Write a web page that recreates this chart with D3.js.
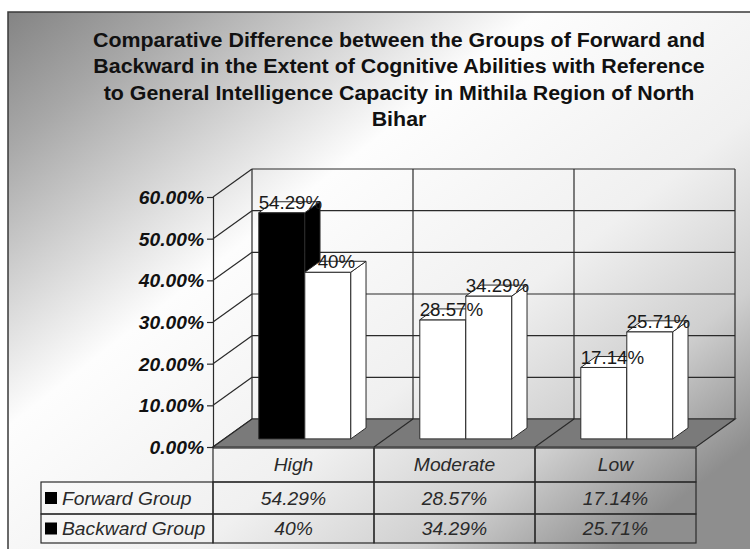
<!DOCTYPE html>
<html>
<head>
<meta charset="utf-8">
<script src="https://cdn.jsdelivr.net/npm/d3@7"></script>
<style>
  html, body { margin: 0; padding: 0; background: #fff; }
  svg text { font-family: "Liberation Sans", Arial, sans-serif; }
</style>
</head>
<body>
<svg id="chart" width="750" height="549"></svg>
<script>
"use strict";

var width  = 750,
    height = 549;

// data
var titleLines = [
    "Comparative Difference between the Groups of Forward and",
    "Backward in the Extent of Cognitive Abilities with Reference",
    "to General Intelligence Capacity in Mithila Region of North",
    "Bihar"
];
var categories = ["High", "Moderate", "Low"];
var seriesNames = ["Forward Group", "Backward Group"];
var forwardValues  = [0.5429, 0.2857, 0.1714];
var backwardValues = [0.40, 0.3429, 0.2571];
var yTicks = [0, 0.1, 0.2, 0.3, 0.4, 0.5, 0.6];

var series = [
    {name: seriesNames[0], values: forwardValues},
    {name: seriesNames[1], values: backwardValues}
];

var fmt = d3.format(".2~%");
var sx = 1.07;   // the picture is a bit wide, text included

// 3d depth: full depth shift
var depthX = 39, depthY = -28;
function px(x, z) { return x + z * depthX; }
function py(y, z) { return y + z * depthY; }

// widen text around its anchor
function stretch(sel) {
    sel.each(function() {
        var t = d3.select(this);
        var x = +t.attr("x") || 0, y = +t.attr("y") || 0;
        t.attr("x", 0).attr("y", 0)
         .attr("transform", "translate(" + x + "," + y + ") scale(" + sx + ",1)");
    });
}

var svg = d3.select("#chart")
            .attr("viewBox", "0 0 " + width + " " + height);

// background
var defs = svg.append("defs");
var grad = defs.append("linearGradient")
               .attr("id", "bg")
               .attr("gradientUnits", "userSpaceOnUse")
               .attr("x1", 0).attr("y1", 0)
               .attr("x2", 500).attr("y2", 640);
[[0, "#7f7f7f"], [0.15, "#a8a8a8"], [0.42, "#fdfdfd"], [0.68, "#f0f0f0"],
 [0.85, "#cfcfcf"], [1, "#8e8e8e"]].forEach(function(s) {
    grad.append("stop").attr("offset", s[0]).attr("stop-color", s[1]);
});

svg.append("rect")
   .attr("x", 8).attr("y", 12)
   .attr("width", 760).attr("height", 560)
   .attr("fill", "url(#bg)")
   .attr("stroke", "#3a3a3a")
   .attr("stroke-width", 1.5);

// title
svg.append("g")
   .selectAll("text")
   .data(titleLines)
   .enter().append("text")
      .attr("x", 399)
      .attr("y", function(d, i) { return 47 + i * 26.3; })
      .attr("text-anchor", "middle")
      .attr("font-size", "20px")
      .attr("font-weight", "bold")
      .attr("fill", "#111")
      .text(function(d) { return d; })
      .call(stretch);

// scales (front plane)
var y = d3.scaleLinear()
          .domain([0, 0.6])
          .range([447, 197]);

var x0 = d3.scaleBand()
           .domain(categories)
           .range([213, 696]);

var x1 = d3.scaleBand()
           .domain(seriesNames)
           .range([0, x0.bandwidth()])
           .paddingInner(0)
           .paddingOuter(0.75);

var plot = svg.append("g").attr("class", "plot");
var line = "#2a2a2a";

// back wall grid
plot.append("g")
    .selectAll("line")
    .data(yTicks)
    .enter().append("line")
        .attr("x1", px(213, 1)).attr("x2", px(696, 1))
        .attr("y1", function(d) { return py(y(d), 1); })
        .attr("y2", function(d) { return py(y(d), 1); })
        .attr("stroke", line).attr("stroke-width", 1.2);

var walls = [213].concat(categories.map(function(c) { return x0(c) + x0.bandwidth(); }));
plot.append("g")
    .selectAll("line")
    .data(walls)
    .enter().append("line")
        .attr("x1", function(d) { return px(d, 1); })
        .attr("x2", function(d) { return px(d, 1); })
        .attr("y1", py(y(0), 1)).attr("y2", py(y(0.6), 1))
        .attr("stroke", line).attr("stroke-width", 1.2);

// side wall diagonals
plot.append("g")
    .selectAll("line")
    .data(yTicks)
    .enter().append("line")
        .attr("x1", 213).attr("y1", function(d) { return y(d); })
        .attr("x2", px(213, 1)).attr("y2", function(d) { return py(y(d), 1); })
        .attr("stroke", line).attr("stroke-width", 1.2);

// floor
var floorPts = [[213, y(0)], [696, y(0)], [px(696, 1), py(y(0), 1)], [px(213, 1), py(y(0), 1)]];
plot.append("polygon")
    .attr("points", floorPts.map(function(p) { return p.join(","); }).join(" "))
    .attr("fill", "#7a7a7a")
    .attr("stroke", line).attr("stroke-width", 1.2);

plot.append("g")
    .selectAll("line")
    .data(categories.slice(1))
    .enter().append("line")
        .attr("x1", function(d) { return x0(d); }).attr("y1", y(0))
        .attr("x2", function(d) { return px(x0(d), 1); }).attr("y2", py(y(0), 1))
        .attr("stroke", line).attr("stroke-width", 1.2);

// y axis
var yAxis = d3.axisLeft(y)
              .tickValues(yTicks)
              .tickFormat(d3.format(".2%"))
              .tickSizeOuter(0)
              .tickSize(6);

var axisG = svg.append("g")
               .attr("transform", "translate(213, 0)")
               .call(yAxis);
axisG.select(".domain").attr("stroke", line).attr("stroke-width", 1.2);
axisG.selectAll(".tick line").attr("stroke", line).attr("stroke-width", 1.2);
axisG.selectAll(".tick text")
     .attr("x", -9)
     .attr("dy", null)
     .attr("y", 6.5)
     .attr("font-family", "Liberation Sans, Arial, sans-serif")
     .attr("font-size", "18px")
     .attr("font-weight", "bold")
     .attr("font-style", "italic")
     .attr("fill", "#111")
     .call(stretch);

// bars; only the High bar of the forward group is filled black
var highlight = {series: seriesNames[0], cat: categories[0]};
var z0 = 0.29, z1 = 0.68;
var bars = [];
categories.forEach(function(c, i) {
    series.forEach(function(s) {
        bars.push({cat: c, name: s.name, value: s.values[i],
                   fill: (s.name === highlight.series && c === highlight.cat) ? "#000" : "#fff"});
    });
});

function pts(arr) { return arr.map(function(p) { return p.join(","); }).join(" "); }

var barG = plot.selectAll("g.bar")
    .data(bars)
    .enter().append("g")
        .attr("class", "bar");

barG.each(function(d) {
    var g = d3.select(this);
    var xl = x0(d.cat) + x1(d.name),
        xr = xl + x1.bandwidth(),
        yt = y(d.value),
        yb = y(0);
    var front = [[px(xl, z0), py(yt, z0)], [px(xr, z0), py(yt, z0)], [px(xr, z0), py(yb, z0)], [px(xl, z0), py(yb, z0)]];
    var side  = [[px(xr, z0), py(yt, z0)], [px(xr, z1), py(yt, z1)], [px(xr, z1), py(yb, z1)], [px(xr, z0), py(yb, z0)]];
    var top   = [[px(xl, z0), py(yt, z0)], [px(xl, z1), py(yt, z1)], [px(xr, z1), py(yt, z1)], [px(xr, z0), py(yt, z0)]];
    g.append("polygon").attr("points", pts(front))
        .attr("fill", d.fill).attr("stroke", line).attr("stroke-width", 1);
    g.append("polygon").attr("points", pts(side))
        .attr("fill", d.fill).attr("stroke", line).attr("stroke-width", 1);
    g.append("polygon").attr("points", pts(top))
        .attr("fill", "#fff").attr("stroke", line).attr("stroke-width", 1);
});

// value labels
plot.append("g")
    .selectAll("text")
    .data(bars)
    .enter().append("text")
        .attr("x", function(d) { return px(x0(d.cat) + x1(d.name) + x1.bandwidth() / 2, (z0 + z1) / 2) + 1; })
        .attr("y", function(d) { return py(y(d.value), z1) + 7; })
        .attr("text-anchor", "middle")
        .attr("font-size", "17.5px")
        .attr("fill", "#1a1a1a")
        .text(function(d) { return fmt(d.value); })
        .call(stretch);

// data table
var rowTops = [448, 482, 514, 543];
var labelLeft = 41;
var table = svg.append("g").attr("class", "table")
               .attr("font-style", "italic")
               .attr("font-size", "18px")
               .attr("fill", "#2a2a2a");

// header row cells
table.selectAll("rect.head")
    .data(categories)
    .enter().append("rect")
        .attr("class", "head")
        .attr("x", function(d) { return x0(d); })
        .attr("y", rowTops[0])
        .attr("width", x0.bandwidth())
        .attr("height", rowTops[1] - rowTops[0])
        .attr("fill", "none")
        .attr("stroke", line).attr("stroke-width", 1.2);

table.selectAll("text.head")
    .data(categories)
    .enter().append("text")
        .attr("class", "head")
        .attr("x", function(d) { return x0(d) + x0.bandwidth() / 2; })
        .attr("y", rowTops[0] + 23)
        .attr("text-anchor", "middle")
        .text(function(d) { return d; })
        .call(stretch);

series.forEach(function(s, r) {
    var top = rowTops[r + 1], h = rowTops[r + 2] - top;
    var row = table.append("g");
    row.append("rect")
       .attr("x", labelLeft).attr("y", top)
       .attr("width", 213 - labelLeft).attr("height", h)
       .attr("fill", "none").attr("stroke", line).attr("stroke-width", 1.2);
    row.append("rect")
       .attr("x", labelLeft + 4).attr("y", top + h / 2 - 6)
       .attr("width", 12).attr("height", 12)
       .attr("fill", "#000");
    row.append("text")
       .attr("x", labelLeft + 21).attr("y", top + h / 2 + 6.5)
       .text(s.name)
       .call(stretch);
    row.selectAll("rect.cell")
       .data(categories)
       .enter().append("rect")
          .attr("class", "cell")
          .attr("x", function(d) { return x0(d); })
          .attr("y", top)
          .attr("width", x0.bandwidth()).attr("height", h)
          .attr("fill", "none").attr("stroke", line).attr("stroke-width", 1.2);
    row.selectAll("text.cell")
       .data(s.values)
       .enter().append("text")
          .attr("class", "cell")
          .attr("x", function(d, i) { return x0(categories[i]) + x0.bandwidth() / 2; })
          .attr("y", top + h / 2 + 6.5)
          .attr("text-anchor", "middle")
          .text(function(d) { return fmt(d); })
          .call(stretch);
});
</script>
</body>
</html>
